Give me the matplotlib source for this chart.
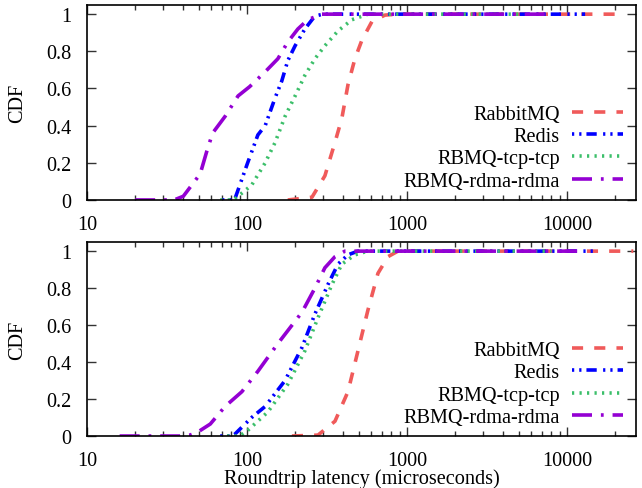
#!/usr/bin/env python
# -*- coding: utf-8 -*-

"""
Roundtrip latency CDFs for RabbitMQ, Redis and the RDMA broker variants.
"""

import matplotlib
matplotlib.use("Agg")
import matplotlib.pyplot as plt
from matplotlib.ticker import FixedLocator, FuncFormatter, LogLocator, NullFormatter

# ---- data (latency in microseconds, CDF) ----

# top panel
top_rabbit_x = [180, 255, 307, 355, 392, 428, 473, 523, 604, 729, 879, 20000]
top_rabbit_y = [0.0, 0.015, 0.13, 0.31, 0.44, 0.62, 0.76, 0.86, 0.96, 0.995, 1.0, 1.0]

top_redis_x = [70, 80, 84, 101, 117, 130, 150, 165, 180, 200, 230, 266, 300, 13000]
top_redis_y = [0.0, 0.0, 0.005, 0.2, 0.35, 0.4, 0.55, 0.64, 0.75, 0.83, 0.92, 0.99, 1.0, 1.0]

top_tcp_x = [68, 82, 88, 107, 130, 150, 173, 200, 230, 266, 307, 371, 453, 570, 5000]
top_tcp_y = [0.0, 0.0, 0.02, 0.08, 0.2, 0.31, 0.45, 0.56, 0.67, 0.76, 0.83, 0.91, 0.97, 1.0, 1.0]

top_rdma_x = [20, 35, 40, 51, 56, 61, 73, 88, 104, 130, 156, 180, 208, 240, 294, 8000]
top_rdma_y = [0.0, 0.0, 0.02, 0.14, 0.26, 0.36, 0.45, 0.56, 0.61, 0.69, 0.76, 0.85, 0.92, 0.97, 1.0, 1.0]

# bottom panel
bot_rabbit_x = [191, 278, 355, 428, 494, 570, 659, 761, 879, 26000]
bot_rabbit_y = [0.0, 0.005, 0.08, 0.24, 0.46, 0.68, 0.88, 0.97, 1.0, 1.0]

bot_redis_x = [68, 80, 84, 107, 130, 173, 221, 266, 321, 371, 428, 494, 15000]
bot_redis_y = [0.0, 0.0, 0.01, 0.1, 0.16, 0.3, 0.48, 0.66, 0.82, 0.93, 0.98, 1.0, 1.0]

bot_tcp_x = [75, 90, 101, 135, 180, 230, 278, 340, 392, 473, 570, 8000]
bot_tcp_y = [0.0, 0.0, 0.03, 0.13, 0.28, 0.46, 0.64, 0.82, 0.93, 0.98, 1.0, 1.0]

bot_rdma_x = [16, 38, 44, 49, 59, 73, 93, 117, 156, 221, 266, 307, 355, 410, 12000]
bot_rdma_y = [0.0, 0.0, 0.005, 0.02, 0.065, 0.16, 0.24, 0.35, 0.5, 0.67, 0.8, 0.91, 0.97, 1.0, 1.0]

labels = ["RabbitMQ", "Redis", "RBMQ-tcp-tcp", "RBMQ-rdma-rdma"]
x_ticks = [10, 100, 1000, 10000]
y_ticks = [0, 0.2, 0.4, 0.6, 0.8, 1.0]

# ---- styling ----
plt.rcParams["font.family"] = ["Liberation Serif", "DejaVu Serif"]
plt.rcParams["font.size"] = 14.6
plt.rcParams["lines.scale_dashes"] = False

colors = ["#f05a5a", "#0000ff", "#3cbf6a", "#9400d3"]
dashes = [
    (8.0, 8.0),                       # dashed
    (1.6, 3.6, 1.6, 3.6, 7.4, 4.6),   # dot dot dash
    (1.6, 3.8),                       # dotted
    (14.4, 6.4, 2.0, 6.4),            # dash dot
]


def draw_panel(ax, series, show_xlabel=False):
    """Draw one CDF panel in the gnuplot look."""
    for (xs, ys), lab, col, dsh in zip(series, labels, colors, dashes):
        ax.plot(xs, ys, color=col, lw=2.6, dashes=dsh,
                dash_capstyle="butt", label=lab)

    ax.set_xscale("log")
    ax.set_xlim(10, 27000)
    ax.set_ylim(0, 1.05)

    ax.xaxis.set_major_locator(FixedLocator(x_ticks))
    ax.xaxis.set_major_formatter(FuncFormatter(lambda v, p: "%d" % v))
    ax.xaxis.set_minor_locator(LogLocator(base=10, subs=range(2, 10), numticks=20))
    ax.xaxis.set_minor_formatter(NullFormatter())
    ax.yaxis.set_major_locator(FixedLocator(y_ticks))
    ax.yaxis.set_major_formatter(FuncFormatter(lambda v, p: "%g" % v))

    ax.tick_params(which="both", direction="in", top=True, right=True,
                   color="#333333", width=1.0)
    ax.tick_params(which="major", length=6.5)
    ax.tick_params(which="minor", length=3.6)
    ax.tick_params(axis="x", pad=10.5)
    ax.tick_params(axis="y", pad=11)
    for sp in ax.spines.values():
        sp.set_linewidth(1.2)

    ax.set_ylabel("CDF", labelpad=14)
    if show_xlabel:
        ax.set_xlabel("Roundtrip latency (microseconds)", labelpad=-1)

    ax.legend(loc="center right", bbox_to_anchor=(0.976, 0.268),
              frameon=False, markerfirst=False, handlelength=2.5,
              handletextpad=0.6, labelspacing=0.15, borderpad=0,
              borderaxespad=0)


fig = plt.figure(figsize=(6.42, 4.89), dpi=100)
ax_top = fig.add_axes([0.1355, 0.589, 0.855, 0.399])
ax_bot = fig.add_axes([0.1355, 0.1063, 0.855, 0.397])

draw_panel(ax_top, [(top_rabbit_x, top_rabbit_y), (top_redis_x, top_redis_y),
                    (top_tcp_x, top_tcp_y), (top_rdma_x, top_rdma_y)])
draw_panel(ax_bot, [(bot_rabbit_x, bot_rabbit_y), (bot_redis_x, bot_redis_y),
                    (bot_tcp_x, bot_tcp_y), (bot_rdma_x, bot_rdma_y)],
           show_xlabel=True)

fig.savefig("out.png", dpi=100)
